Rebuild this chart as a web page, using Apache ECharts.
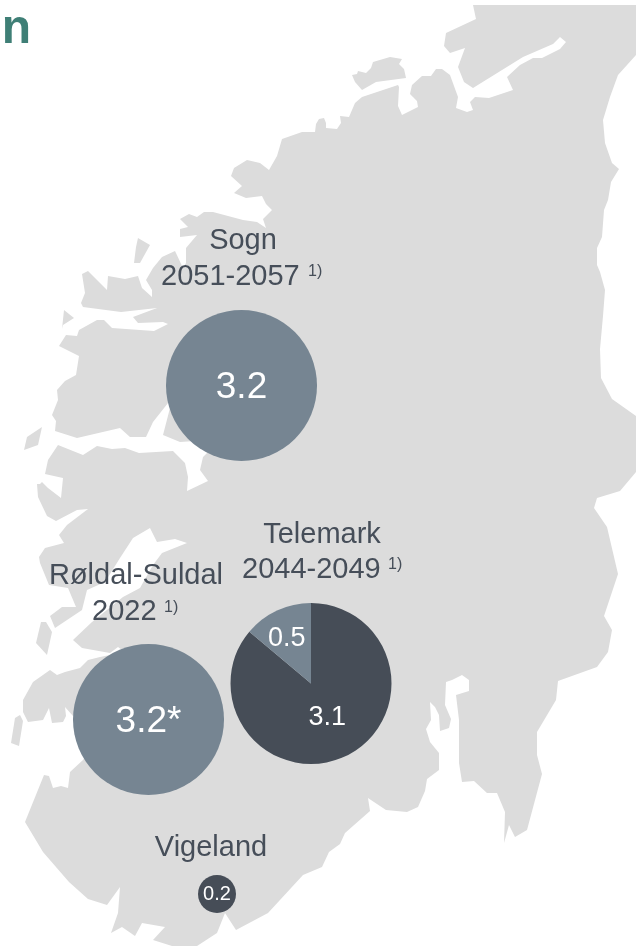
<!DOCTYPE html>
<html>
<head>
    <meta charset="utf-8">
    <title>Kart</title>
    <script src="https://cdn.jsdelivr.net/npm/echarts@6/dist/echarts.min.js"></script>
    <style>
        html, body { margin: 0; padding: 0; background: #fff; }
    </style>
</head>
<body>
<div id="main" style="width: 636px;height:946px;"></div>
<script type="text/javascript">
    // pie values
    const sognValues = [3.2];
    const roldalValues = [3.2];
    const telemarkValues = [3.1, 0.5];
    const vigelandValues = [0.2];

    const regionNames = ['Sogn', 'Røldal-Suldal', 'Telemark', 'Vigeland'];
    const regionPeriods = ['2051-2057', '2022', '2044-2049'];
    const footnoteMark = '1)';
    const headingFragment = 'on';

    // map shape (page pixels)
    const mainland = [
        [473,5],[636,5],[636,55],[618,75],[610,97],[603,120],[605,143],[612,163],[619,169],[611,182],
        [608,200],[604,210],[602,237],[597,248],[597,265],[600,272],[605,290],[603,316],[600,349],[601,378],
        [612,399],[636,416],[636,472],[620,491],[597,498],[594,508],[607,527],[618,574],[604,616],[612,630],
        [608,652],[597,667],[558,681],[556,700],[537,732],[537,755],[542,774],[527,830],[515,837],[509,825],
        [504,843],[505,812],[497,793],[487,793],[474,781],[462,782],[459,763],[459,720],[456,695],[469,691],
        [469,680],[462,675],[452,680],[446,682],[445,705],[451,719],[449,728],[440,731],[439,715],[435,707],
        [430,702],[431,720],[426,729],[430,742],[439,753],[439,770],[427,779],[425,791],[418,807],[407,812],
        [386,810],[368,798],[370,811],[345,833],[340,844],[329,852],[322,867],[303,875],[268,913],[236,930],
        [225,913],[217,933],[197,946],[172,946],[153,940],[165,927],[142,923],[135,936],[122,927],[111,933],
        [118,913],[120,887],[107,905],[88,899],[69,882],[43,852],[25,822],[44,775],[49,776],[53,788],
        [61,786],[68,788],[70,772],[83,760],[88,752],[88,720],[73,716],[65,707],[66,716],[63,722],
        [52,723],[49,708],[43,720],[28,722],[23,712],[23,700],[33,682],[50,670],[57,675],[65,672],
        [80,668],[88,660],[100,657],[125,652],[118,647],[110,653],[82,648],[73,640],[92,622],[123,597],
        [140,588],[153,565],[162,553],[187,543],[175,539],[157,542],[150,528],[133,538],[120,558],[105,582],
        [87,590],[82,610],[55,628],[50,616],[62,607],[76,607],[68,588],[49,585],[40,563],[39,557],
        [45,548],[64,543],[59,535],[67,525],[88,509],[77,510],[56,521],[47,516],[38,497],[37,484],
        [40,484],[42,482],[48,488],[61,498],[63,478],[45,474],[48,460],[58,445],[83,455],[97,446],
        [112,449],[125,448],[139,453],[173,451],[185,463],[188,477],[187,491],[208,481],[200,470],[203,457],
        [215,445],[195,441],[180,442],[163,435],[170,408],[185,395],[168,403],[153,422],[146,437],[130,437],
        [120,428],[77,438],[55,431],[56,421],[52,415],[58,400],[57,390],[65,381],[76,375],[79,356],
        [59,346],[66,335],[77,336],[79,330],[97,320],[104,320],[112,328],[154,331],[168,324],[163,322],
        [138,323],[133,317],[157,308],[121,312],[83,307],[81,303],[85,293],[82,274],[88,271],[107,290],
        [108,276],[125,279],[138,276],[142,288],[152,297],[152,290],[146,280],[153,268],[162,257],[175,251],
        [183,268],[186,263],[186,248],[197,235],[180,237],[180,229],[188,227],[180,219],[189,214],[197,217],
        [204,212],[213,212],[243,220],[257,222],[266,228],[263,219],[272,210],[266,204],[262,196],[246,198],
        [234,193],[242,186],[231,176],[234,168],[247,160],[260,163],[269,170],[277,156],[282,139],[302,132],
        [315,132],[316,124],[319,119],[324,118],[326,123],[326,128],[337,129],[341,123],[340,116],[349,117],
        [355,103],[362,97],[398,85],[399,87],[398,106],[402,115],[418,107],[417,101],[410,94],[412,85],
        [422,76],[431,76],[436,69],[442,69],[450,75],[458,97],[456,108],[467,112],[473,110],[470,102],
        [475,97],[489,98],[513,90],[507,77],[520,65],[533,58],[542,58],[560,49],[566,42],[560,37],
        [553,44],[523,57],[473,88],[464,82],[458,67],[465,48],[450,53],[444,46],[446,33],[476,19]
    ];
    const islands = [
        [[352,75],[357,74],[358,71],[366,73],[371,68],[373,62],[390,57],[402,59],[399,64],[404,69],[406,78],[376,82],[362,90],[355,82]],
        [[138,238],[150,245],[140,263],[134,263],[136,247]],
        [[64,310],[74,318],[63,325],[62,329]],
        [[42,427],[38,445],[24,450],[27,437]],
        [[41,622],[46,622],[52,632],[47,655],[36,643]],
        [[20,715],[23,721],[19,746],[11,743],[15,718]]
    ];

    const landColor = '#dcdcdc';
    const lightColor = '#768592';
    const darkColor = '#464d57';
    const textColor = '#464e59';
    const fontName = '"Liberation Sans", Arial, sans-serif';

    function land(points) {
        return {type: 'polygon', silent: true, z: 0, shape: {points: points}, style: {fill: landColor}};
    }

    function caption(text, x, y, size, align, color, weight) {
        return {
            type: 'text', silent: true, z: 5, x: x, y: y,
            style: {
                text: text, fill: color || textColor, fontSize: size, fontFamily: fontName,
                fontWeight: weight || 'normal', align: align || 'center', verticalAlign: 'middle'
            }
        };
    }

    function bubble(values, colors, labels, center, radius, fontSize, position, offsets) {
        return {
            type: 'pie',
            silent: true,
            animation: false,
            center: center,
            radius: radius,
            startAngle: 90,
            clockwise: true,
            avoidLabelOverlap: false,
            labelLine: {show: false},
            data: values.map(function (v, i) {
                return {
                    value: v,
                    itemStyle: {color: colors[i]},
                    label: {
                        show: true,
                        position: position,
                        formatter: labels[i],
                        color: '#fff',
                        fontSize: fontSize,
                        fontFamily: fontName,
                        offset: offsets ? offsets[i] : [0, 0]
                    }
                };
            })
        };
    }

    const myChart = echarts.init(document.getElementById('main'));
    const option = {
        backgroundColor: '#fff',
        graphic: {
            elements: [land(mainland)].concat(islands.map(land), [
                caption(headingFragment, 31, 30, 48, 'right', '#3f7f76', 'bold'),
                caption(regionNames[0], 243, 241, 29),
                caption(regionPeriods[0], 161, 277, 29, 'left'),
                caption(footnoteMark, 308, 272, 16, 'left'),
                caption(regionNames[2], 322, 535, 29),
                caption(regionPeriods[2], 242, 570, 29, 'left'),
                caption(footnoteMark, 388, 565, 16, 'left'),
                caption(regionNames[1], 136, 576, 29),
                caption(regionPeriods[1], 92, 612, 29, 'left'),
                caption(footnoteMark, 164, 608, 16, 'left'),
                caption(regionNames[3], 211, 848, 29)
            ])
        },
        series: [
            bubble(sognValues, [lightColor], ['3.2'], [241.5, 385.5], 75.5, 37, 'center', [[0, 2]]),
            bubble(roldalValues, [lightColor], ['3.2*'], [148.5, 719.5], 75.5, 37, 'center', [[0, 2]]),
            bubble(telemarkValues, [darkColor, lightColor], ['3.1', '0.5'], [311, 683.5], 80.5, 27, 'inside', [[-2, -5], [-6, -6]]),
            bubble(vigelandValues, [darkColor], ['0.2'], [217, 894], 19, 20, 'center')
        ]
    };
    myChart.setOption(option);
</script>
</body>
</html>
